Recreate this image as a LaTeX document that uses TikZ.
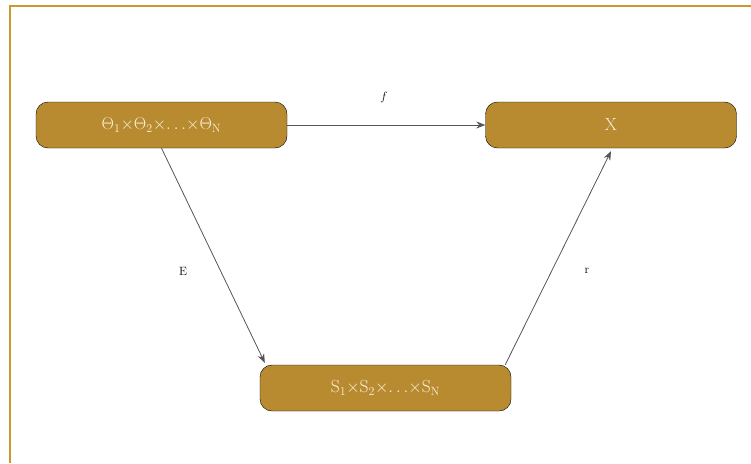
\documentclass[tikz,border=0pt]{standalone}
\usepackage{xcolor}
\usepackage{tikz}
\usetikzlibrary{positioning, arrows.meta}
\definecolor{boxGold}{RGB}{185,139,49}
\definecolor{boxText}{RGB}{248,240,218}
\definecolor{frameGold}{RGB}{204,150,48}
\definecolor{edgeGray}{RGB}{85,85,85}

\begin{document}
\begin{tikzpicture}[x=1pt, y=-1pt,
    setbox/.style={draw=black, fill=boxGold, rounded corners=12pt,
      minimum width=251pt, minimum height=46pt, inner sep=0pt,
      text=boxText, font=\fontsize{17.5}{20}\selectfont},
    map/.style={draw=edgeGray, line width=0.8pt, -{Stealth[length=9pt, width=7pt]}},
    lbl/.style={font=\fontsize{12}{14}\selectfont, text=black}
  ]
  \useasboundingbox (0,0) rectangle (751,463);
  % frame
  \draw[frameGold, line width=1.2pt] (10,463) -- (10,6) -- (751,6);

  % sets
  \node[setbox] (theta) at (161.5,125) {$\Theta_{\mathrm{1}}{\times}\Theta_{\mathrm{2}}{\times}{\ldots}{\times}\Theta_{\mathrm{N}}$};
  \node[setbox] (xset) at (611,125) {X};
  \node[setbox] (sset) at (385.5,388) {S$_{\mathrm{1}}{\times}$S$_{\mathrm{2}}{\times}{\ldots}{\times}$S$_{\mathrm{N}}$};

  % maps
  \draw[map] (theta.east) -- (xset.west);
  \node[lbl] (flbl) at (384,97) {$f$};
  \draw[map] (theta.south) -- ([xshift=5pt, yshift=2pt]sset.north west);
  \node[lbl] (elbl) at (183,271) {E};
  \draw[map] ([xshift=-6pt]sset.north east) -- ([yshift=-3pt]xset.south);
  \node[lbl] (rlbl) at (587,271) {r};
\end{tikzpicture}
\end{document}
